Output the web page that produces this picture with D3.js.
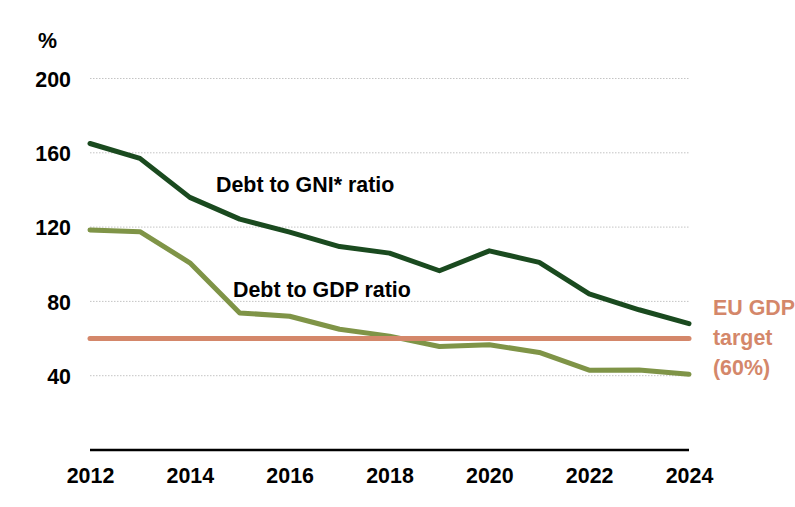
<!DOCTYPE html>
<html>
<head>
<meta charset="utf-8">
<script src="https://cdn.jsdelivr.net/npm/d3@7"></script>
<style>
html,body{margin:0;padding:0;background:#fff;}
svg{display:block;font-family:"Liberation Sans",Arial,sans-serif;font-weight:bold;}
</style>
</head>
<body>
<svg id="chart" width="795" height="507"></svg>
<script>
const years = [2012,2013,2014,2015,2016,2017,2018,2019,2020,2021,2022,2023,2024];
const debtToGNI = [165,157,136,124.3,117.3,109.5,106,96.5,107.2,101,84,75.5,68];
const debtToGDP = [118.5,117.5,100.8,73.8,72,65,61.3,55.7,56.7,52.5,43,43.1,40.8];
const euTarget = 60;
const yTicks = [40,80,120,160,200];
const xTicks = [2012,2014,2016,2018,2020,2022,2024];

const FS = "21.4px";
const svg = d3.select("#chart");
const x = d3.scaleLinear().domain([2012,2024]).range([90,689]);
const y = d3.scaleLinear().domain([0,200]).range([450,78.5]);

// gridlines
svg.append("g").selectAll("line").data(yTicks).join("line")
  .attr("x1",x(2012)).attr("x2",x(2024))
  .attr("y1",d=>y(d)).attr("y2",d=>y(d))
  .attr("stroke","#c4c4c4").attr("stroke-width",1).attr("stroke-dasharray","1.5,1.5");

// y axis labels
const yAxis = d3.axisLeft(y).tickValues(yTicks).tickSize(0).tickPadding(0);
const gy = svg.append("g").attr("transform","translate(71,0)").call(yAxis);
gy.select(".domain").remove();
gy.selectAll("text").attr("font-size",FS).attr("font-family","Liberation Sans, Arial, sans-serif")
  .attr("font-weight","bold").attr("fill","#000").attr("dy","0.36em");

svg.append("text").attr("x",38).attr("y",48).attr("font-size",FS).attr("fill","#000").text("%");

// x axis
const xAxis = d3.axisBottom(x).tickValues(xTicks).tickFormat(d3.format("d")).tickSize(0).tickPadding(0);
const gx = svg.append("g").attr("transform","translate(0,450)").call(xAxis);
gx.select(".domain").attr("stroke","#000").attr("stroke-width",2.7).attr("d",`M${x(2012)},0H${x(2024)}`);
gx.selectAll("text").attr("font-size",FS).attr("font-family","Liberation Sans, Arial, sans-serif")
  .attr("font-weight","bold").attr("fill","#000").attr("y",33).attr("dy",0);

const line = d3.line().x((d,i)=>x(years[i])).y(d=>y(d));

svg.append("path").datum(debtToGDP).attr("d",line).attr("fill","none")
  .attr("stroke","#7f9447").attr("stroke-width",5).attr("stroke-linejoin","round").attr("stroke-linecap","round");
svg.append("path").datum(debtToGNI).attr("d",line).attr("fill","none")
  .attr("stroke","#1a4a1f").attr("stroke-width",5).attr("stroke-linejoin","round").attr("stroke-linecap","round");

svg.append("line").attr("x1",x(2012)).attr("x2",x(2024)).attr("y1",y(euTarget)).attr("y2",y(euTarget))
  .attr("stroke","#d4876a").attr("stroke-width",5).attr("stroke-linecap","round");

// labels
svg.append("text").attr("x",216).attr("y",192).attr("font-size",FS).attr("fill","#000").text("Debt to GNI* ratio");
svg.append("text").attr("x",233).attr("y",297).attr("font-size",FS).attr("fill","#000").text("Debt to GDP ratio");
const eu = svg.append("text").attr("font-size",FS).attr("fill","#d4876a");
["EU GDP","target","(60%)"].forEach((t,i)=>{
  eu.append("tspan").attr("x",713).attr("y",315+i*30).text(t);
});
</script>
</body>
</html>
